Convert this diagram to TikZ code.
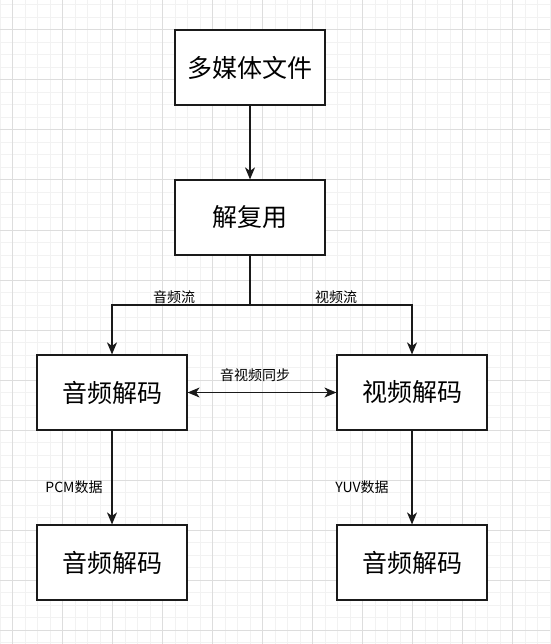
\documentclass[tikz,border=0pt]{standalone}
\usepackage{fontspec}
\setmainfont{Noto Sans CJK SC}
\usepackage{xcolor}
\usetikzlibrary{arrows.meta,positioning}
\definecolor{gridminor}{HTML}{F2F2F2}
\definecolor{gridmajor}{HTML}{DDDDDD}
\definecolor{ink}{HTML}{1A1A1A}

\begin{document}
\begin{tikzpicture}[x=1pt,y=-1pt,
  stage/.style={draw=ink, line width=1.2pt, fill=white, minimum width=150pt, minimum height=75pt, inner sep=0pt, font=\fontsize{25}{29}\selectfont},
  link/.style={draw=ink, line width=1.2pt},
  flow/.style={link, -{Stealth[length=12pt,width=10pt,inset=3.5pt]}},
  sync/.style={link, {Stealth[length=12pt,width=10pt,inset=3.5pt]}-{Stealth[length=12pt,width=10pt,inset=3.5pt]}},
  tag/.style={font=\fontsize{14}{16}\selectfont, inner sep=1pt}]
\useasboundingbox (0,0) rectangle (550,644);
\fill[white] (0,0) rectangle (550,644);
% grid
\foreach \x in {0,12.5,...,550} \draw[gridminor, line width=1pt] (\x,0) -- (\x,644);
\foreach \y in {5,17.5,...,644} \draw[gridminor, line width=1pt] (0,\y) -- (550,\y);
\foreach \x in {12.5,62.5,...,550} \draw[gridmajor, line width=1pt] (\x,0) -- (\x,644);
\foreach \y in {30,80,...,644} \draw[gridmajor, line width=1pt] (0,\y) -- (550,\y);

\node[stage] (media) at (250,67.5) {多媒体文件};
\node[stage] (demux) at (250,217.5) {解复用};
\node[stage] (adec) at (112,392.5) {音频解码};
\node[stage] (vdec) at (412,392.5) {视频解码};
\node[stage] (aout) at (112,562.5) {音频解码};
\node[stage] (vout) at (412,562.5) {音频解码};

\draw[flow] (media) -- (demux);
\coordinate (split) at (250,305);
\draw[link] (demux.south) -- (split);
\draw[flow] (split) -| (adec.north);
\draw[flow] (split) -| (vdec.north);
\draw[sync] (adec.east) -- (vdec.west);
\draw[flow] (adec) -- (aout);
\draw[flow] (vdec) -- (vout);

\node[tag] (astream) at (174,297) {音频流};
\node[tag] (vstream) at (336,297) {视频流};
\node[tag] (avsync) at (255,375) {音视频同步};
\node[tag] (pcm) at (74,487) {PCM数据};
\node[tag] (yuv) at (362,487) {YUV数据};
\end{tikzpicture}
\end{document}
